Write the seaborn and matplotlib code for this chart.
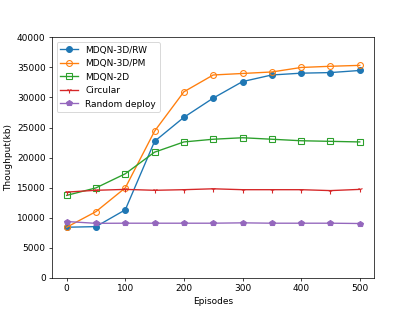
import numpy as np
import pandas as pd
import matplotlib
matplotlib.use("Agg")
import matplotlib.pyplot as plt
import seaborn as sns

episodes = [0, 50, 100, 150, 200, 250, 300, 350, 400, 450, 500]

rw = [8400, 8500, 11300, 22700, 26700, 29900, 32650, 33750, 34050, 34150, 34500]
pm = [8400, 11000, 14950, 24400, 30950, 33750, 34000, 34250, 35000, 35200, 35350]
d2 = [13700, 14950, 17300, 20900, 22600, 23050, 23300, 23050, 22800, 22700, 22600]
circular = [14250, 14550, 14700, 14550, 14650, 14800, 14650, 14650, 14650, 14500, 14700]
random_deploy = [9350, 9050, 9070, 9070, 9070, 9070, 9130, 9070, 9070, 9070, 9020]

series = [
    ("MDQN-3D/RW", rw, "o", "tab:blue", True),
    ("MDQN-3D/PM", pm, "o", "tab:orange", False),
    ("MDQN-2D", d2, "s", "tab:green", False),
    ("Circular", circular, "1", "tab:red", True),
    ("Random deploy", random_deploy, "p", "tab:purple", True),
]

fig, ax = plt.subplots(figsize=(6.4, 4.8), dpi=65)

for name, vals, mk, col, filled in series:
    df = pd.DataFrame({"Episodes": episodes, "Thoughput(kb)": vals})
    sns.lineplot(data=df, x="Episodes", y="Thoughput(kb)", ax=ax, label=name,
                 marker=mk, color=col, markersize=6.5, markeredgewidth=1.2,
                 markeredgecolor=col,
                 markerfacecolor=col if filled else "none")

ax.set_ylim(0, 40000)
ax.set_xlim(-25, 525)
ax.set_xticks(range(0, 501, 100))
ax.set_yticks(range(0, 40001, 5000))
ax.legend(loc="upper left")

fig.savefig("out.png", dpi=65)
